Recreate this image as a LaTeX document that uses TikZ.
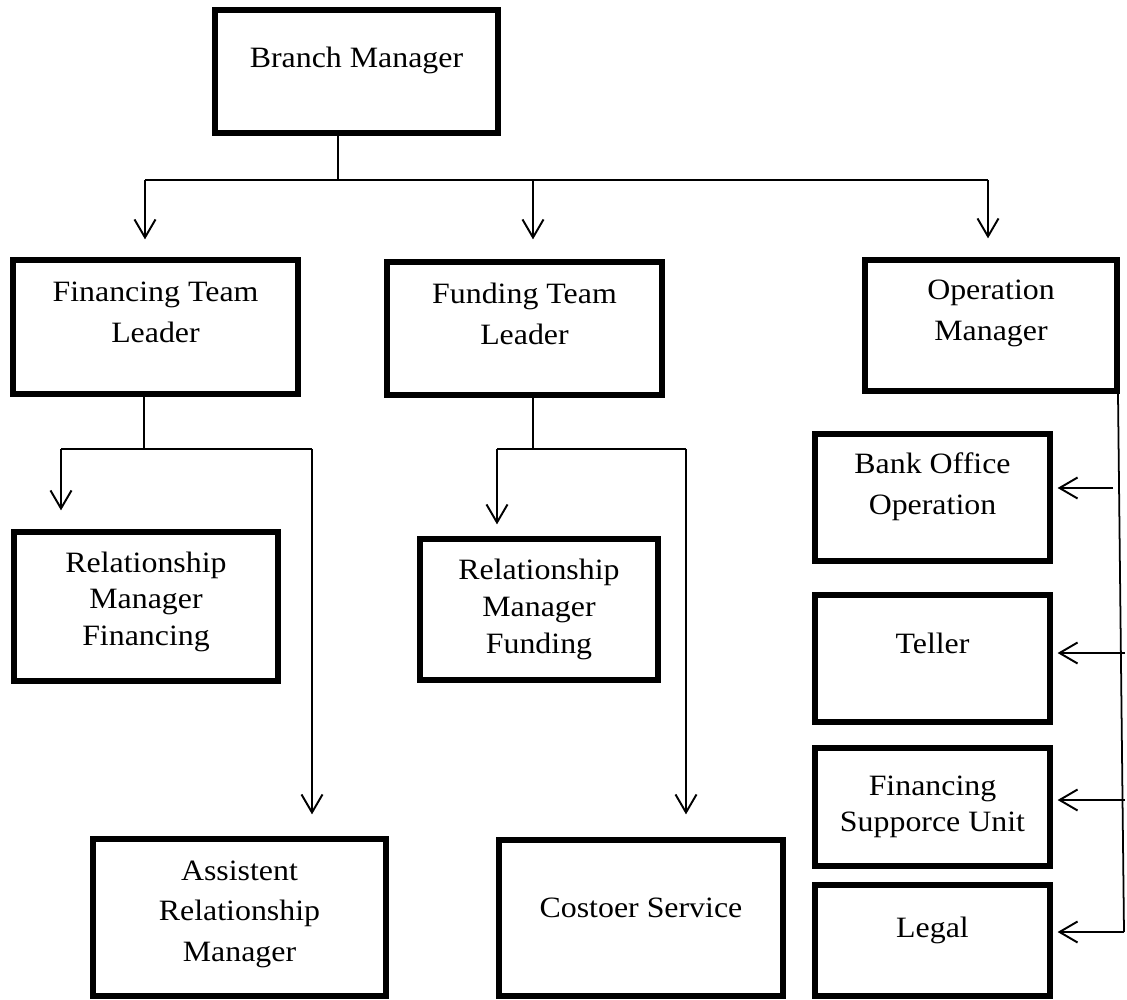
\documentclass[tikz,border=0pt]{standalone}
\usepackage{fontspec}
\setmainfont{Liberation Serif}[FakeStretch=1.08]
\usetikzlibrary{arrows.meta,calc}
\newcommand\mlines[1]{\begin{tabular}[t]{@{}c@{}}#1\end{tabular}}
\newcommand\fA{\fontsize{16.8}{23.3}\selectfont}
\newcommand\fB{\fontsize{16.8}{21}\selectfont}
\begin{document}
\begin{tikzpicture}[x=0.02cm,y=-0.02cm,
  box/.style={draw=black,line width=3pt,rectangle,inner sep=0pt,fill=white},
  txt/.style={inner sep=0pt,anchor=base,text=black},
  conn/.style={draw=black,line width=1pt},
  arr/.style={draw=black,line width=1pt,-{Straight Barb[length=0.36cm,width=0.42cm,line width=1.1pt]}}]
\useasboundingbox (0,0) rectangle (1127,1000);
\fill[white] (0,0) rectangle (1127,1000);
% boxes
\node[box,minimum width=283*0.02cm,minimum height=123*0.02cm] (bm) at (356.5,71.5) {};
\node[box,minimum width=285*0.02cm,minimum height=134*0.02cm] (ftl) at (155.5,327) {};
\node[box,minimum width=275*0.02cm,minimum height=133*0.02cm] (futl) at (524.5,328.5) {};
\node[box,minimum width=252*0.02cm,minimum height=131*0.02cm] (om) at (991,325.5) {};
\node[box,minimum width=264*0.02cm,minimum height=149*0.02cm] (rmf) at (146,606.5) {};
\node[box,minimum width=238*0.02cm,minimum height=141*0.02cm] (rmfu) at (539,609.5) {};
\node[box,minimum width=293*0.02cm,minimum height=157*0.02cm] (arm) at (239.5,917.5) {};
\node[box,minimum width=284*0.02cm,minimum height=156*0.02cm] (cs) at (641,918) {};
\node[box,minimum width=235*0.02cm,minimum height=127*0.02cm] (boo) at (932.5,497.5) {};
\node[box,minimum width=235*0.02cm,minimum height=127*0.02cm] (teller) at (932.5,658.5) {};
\node[box,minimum width=235*0.02cm,minimum height=118*0.02cm] (fsu) at (932.5,807) {};
\node[box,minimum width=235*0.02cm,minimum height=111*0.02cm] (legal) at (932.5,940.5) {};
% texts
\node[txt,font=\fA] (tbm) at (356.5,67.7) {\mlines{Branch Manager}};
\node[txt,font=\fA] (tftl) at (155.5,302) {\mlines{Financing Team\\Leader}};
\node[txt,font=\fA] (tfutl) at (524.5,304) {\mlines{Funding Team\\Leader}};
\node[txt,font=\fA] (tom) at (991,300) {\mlines{Operation\\Manager}};
\node[txt,font=\fB] (trmf) at (146,572) {\mlines{Relationship\\Manager\\Financing}};
\node[txt,font=\fB] (trmfu) at (539,580) {\mlines{Relationship\\Manager\\Funding}};
\node[txt,font=\fA] (tarm) at (239.5,880) {\mlines{Assistent\\Relationship\\Manager}};
\node[txt,font=\fA] (tcs) at (641,917) {\mlines{Costoer Service}};
\node[txt,font=\fA] (tboo) at (932.5,474) {\mlines{Bank Office\\Operation}};
\node[txt,font=\fA] (tteller) at (932.5,653) {\mlines{Teller}};
\node[txt,font=\fB] (tfsu) at (932.5,795) {\mlines{Financing\\Supporce Unit}};
\node[txt,font=\fA] (tlegal) at (932.5,937) {\mlines{Legal}};
% top level connectors
\coordinate (j0) at (338,180);
\coordinate (b1) at (145,180);
\coordinate (b2) at (533,180);
\coordinate (b3) at (988,180);
\draw[conn] (bm.south -| j0) -- (j0);
\draw[conn] (b1) -- (b3);
\draw[arr,shorten >=0.36cm] (b1) -- (b1 |- ftl.north);
\draw[arr,shorten >=0.40cm] (b2) -- (b2 |- futl.north);
\draw[arr,shorten >=0.38cm] (b3) -- (b3 |- om.north);
% financing team
\coordinate (j1) at (144,449);
\coordinate (j1l) at (61,449);
\coordinate (j1r) at (312,449);
\draw[conn] (ftl.south -| j1) -- (j1);
\draw[conn] (j1l) -- (j1r);
\draw[arr,shorten >=0.38cm] (j1l) -- (j1l |- rmf.north);
\draw[arr,shorten >=0.44cm] (j1r) -- (j1r |- arm.north);
% funding team
\coordinate (j2) at (533,449);
\coordinate (j2l) at (497,449);
\coordinate (j2r) at (686,449);
\draw[conn] (futl.south -| j2) -- (j2);
\draw[conn] (j2l) -- (j2r);
\draw[arr,shorten >=0.24cm] (j2l) -- (j2l |- rmfu.north);
\draw[arr,shorten >=0.46cm] (j2r) -- (j2r |- cs.north);
% operation manager
\coordinate (r0) at (1118,393);
\coordinate (r1) at (1124,932);
\coordinate (s1) at (1113,488);
\coordinate (s2) at (1125,653);
\coordinate (s3) at (1125,800);
\draw[conn] (om.south -| r0) -- (r1);
\draw[arr,shorten >=0.1cm] (r1) -- (r1 -| legal.east);
\draw[arr,shorten >=0.1cm] (s1) -- (s1 -| boo.east);
\draw[arr,shorten >=0.1cm] (s2) -- (s2 -| teller.east);
\draw[arr,shorten >=0.1cm] (s3) -- (s3 -| fsu.east);
\end{tikzpicture}
\end{document}
